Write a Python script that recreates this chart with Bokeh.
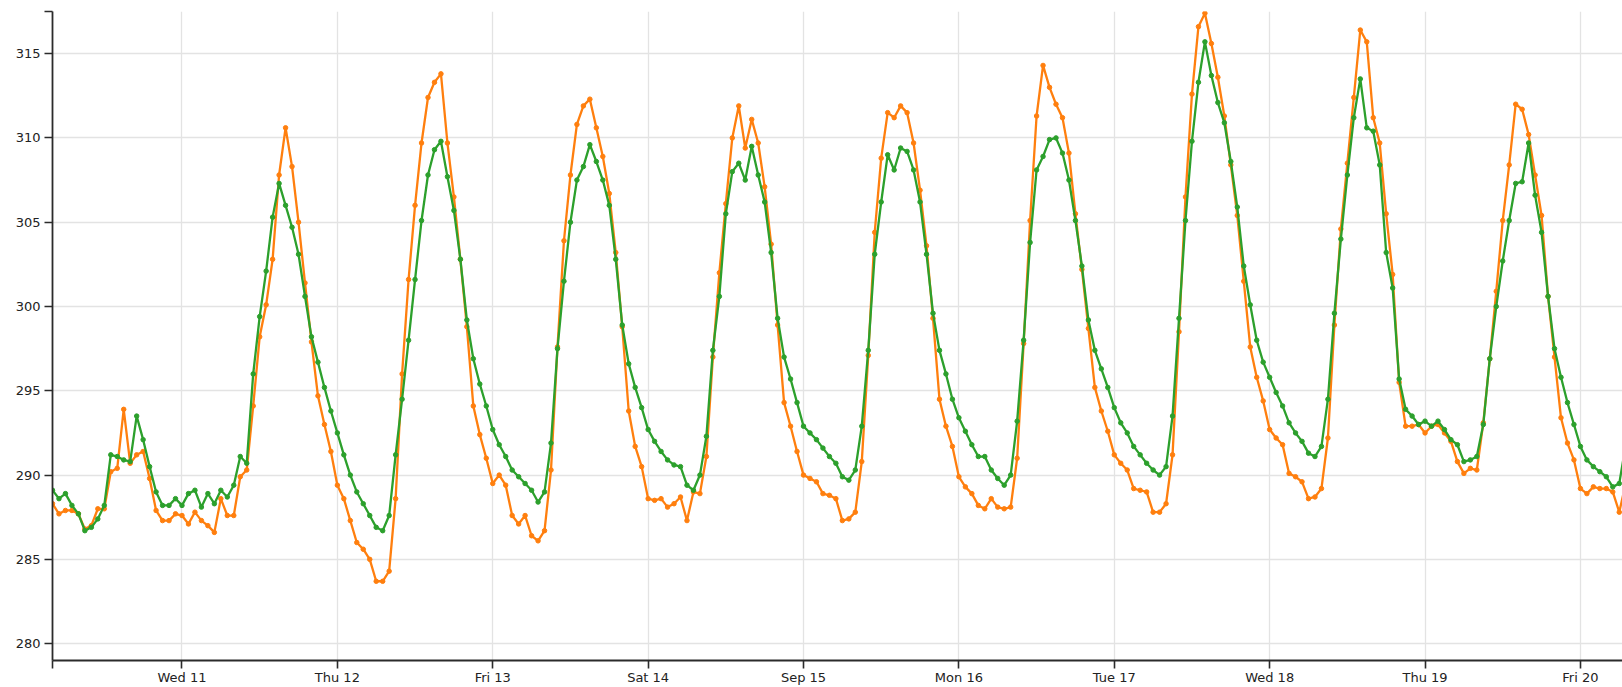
from datetime import datetime, timedelta

from bokeh.embed import file_html
from bokeh.models import ColumnDataSource, CustomJSTickFormatter, FixedTicker, Range1d
from bokeh.plotting import figure
from bokeh.resources import INLINE

# Hourly temperatures (K) starting 2019-09-10 04:00, one row per local day.
series_a = [  # orange
    288.3, 287.7, 287.9, 287.9, 287.7, 286.8, 287.0, 288.0, 288.0, 290.2,
    290.4, 293.9, 290.7, 291.2, 291.4, 289.8, 287.9, 287.3, 287.3, 287.7,
    # Sep 11
    287.6, 287.1, 287.8, 287.3, 287.0, 286.6, 288.6, 287.6, 287.6, 289.9,
    290.3, 294.1, 298.2, 300.1, 302.8, 307.8, 310.6, 308.3, 305.0, 301.4,
    297.9, 294.7, 293.0, 291.4,
    # Sep 12
    289.4, 288.6, 287.3, 286.0, 285.6, 285.0, 283.7, 283.7, 284.3, 288.6,
    296.0, 301.6, 306.0, 309.7, 312.4, 313.3, 313.8, 309.7, 306.5, 302.8,
    298.8, 294.1, 292.4, 291.0,
    # Sep 13
    289.5, 290.0, 289.4, 287.6, 287.1, 287.6, 286.4, 286.1, 286.7, 290.3,
    297.6, 303.9, 307.8, 310.8, 311.9, 312.3, 310.6, 308.9, 306.7, 303.2,
    298.8, 293.8, 291.7, 290.5,
    # Sep 14
    288.6, 288.5, 288.6, 288.1, 288.3, 288.7, 287.3, 289.0, 288.9, 291.1,
    297.0, 302.0, 306.1, 310.0, 311.9, 309.4, 311.1, 309.7, 307.1, 303.7,
    298.9, 294.3, 292.9, 291.4,
    # Sep 15
    290.0, 289.8, 289.6, 288.9, 288.8, 288.6, 287.3, 287.4, 287.8, 290.8,
    297.1, 304.4, 308.8, 311.5, 311.2, 311.9, 311.5, 309.7, 306.9, 303.6,
    299.3, 294.5, 292.9, 291.7,
    # Sep 16
    289.9, 289.3, 288.9, 288.2, 288.0, 288.6, 288.1, 288.0, 288.1, 291.0,
    297.8, 305.1, 311.3, 314.3, 313.0, 312.0, 311.2, 309.1, 305.5, 302.2,
    298.7, 295.2, 293.8, 292.6,
    # Sep 17
    291.2, 290.7, 290.3, 289.2, 289.1, 289.0, 287.8, 287.8, 288.3, 291.2,
    298.5, 306.5, 312.6, 316.6, 317.4, 315.6, 313.6, 311.3, 308.4, 305.4,
    301.5, 297.6, 295.8, 294.4,
    # Sep 18
    292.7, 292.2, 291.8, 290.1, 289.9, 289.6, 288.6, 288.7, 289.2, 292.2,
    298.9, 304.6, 308.5, 312.4, 316.4, 315.7, 311.2, 309.7, 305.5, 301.9,
    295.5, 292.9, 292.9, 293.0,
    # Sep 19
    292.5, 292.9, 293.0, 292.5, 292.0, 290.8, 290.1, 290.4, 290.3, 293.1,
    296.9, 300.9, 305.1, 308.4, 312.0, 311.7, 310.2, 307.8, 305.4, 300.6,
    297.0, 293.4, 291.9, 290.9,
    # Sep 20
    289.2, 288.9, 289.3, 289.2, 289.2, 289.0, 287.8, 289.5,
]

series_b = [  # green
    289.1, 288.6, 288.9, 288.2, 287.7, 286.7, 286.9, 287.4, 288.2, 291.2,
    291.1, 290.9, 290.8, 293.5, 292.1, 290.5, 289.0, 288.2, 288.2, 288.6,
    # Sep 11
    288.2, 288.9, 289.1, 288.1, 288.9, 288.3, 289.1, 288.7, 289.4, 291.1,
    290.7, 296.0, 299.4, 302.1, 305.3, 307.3, 306.0, 304.7, 303.1, 300.6,
    298.2, 296.7, 295.2, 293.8,
    # Sep 12
    292.5, 291.2, 290.0, 289.0, 288.3, 287.6, 286.9, 286.7, 287.6, 291.2,
    294.5, 298.0, 301.6, 305.1, 307.8, 309.3, 309.8, 307.7, 305.7, 302.8,
    299.2, 296.9, 295.4, 294.1,
    # Sep 13
    292.7, 291.8, 291.1, 290.3, 289.9, 289.5, 289.1, 288.4, 289.0, 291.9,
    297.5, 301.5, 305.0, 307.5, 308.3, 309.6, 308.6, 307.5, 306.0, 302.8,
    298.9, 296.6, 295.2, 294.0,
    # Sep 14
    292.7, 292.0, 291.4, 290.9, 290.6, 290.5, 289.4, 289.1, 290.0, 292.3,
    297.4, 300.6, 305.5, 308.0, 308.5, 307.5, 309.5, 307.8, 306.2, 303.2,
    299.3, 297.0, 295.7, 294.3,
    # Sep 15
    292.9, 292.5, 292.1, 291.6, 291.1, 290.7, 289.9, 289.7, 290.3, 292.9,
    297.4, 303.1, 306.2, 309.0, 308.1, 309.4, 309.2, 308.1, 306.2, 303.1,
    299.6, 297.4, 296.0, 294.5,
    # Sep 16
    293.4, 292.6, 291.8, 291.1, 291.1, 290.3, 289.8, 289.4, 290.0, 293.2,
    298.0, 303.8, 308.1, 308.9, 309.9, 310.0, 309.1, 307.5, 305.1, 302.4,
    299.2, 297.4, 296.3, 295.2,
    # Sep 17
    294.0, 293.1, 292.5, 291.7, 291.2, 290.7, 290.3, 290.0, 290.5, 293.5,
    299.3, 305.1, 309.8, 313.3, 315.7, 313.7, 312.1, 310.9, 308.6, 305.9,
    302.4, 300.1, 298.0, 296.7,
    # Sep 18
    295.8, 294.9, 294.1, 293.1, 292.5, 292.0, 291.3, 291.1, 291.7, 294.5,
    299.6, 304.0, 307.8, 311.2, 313.5, 310.6, 310.4, 308.4, 303.2, 301.1,
    295.7, 293.9, 293.5, 293.0,
    # Sep 19
    293.2, 292.9, 293.2, 292.7, 292.1, 291.8, 290.8, 290.9, 291.1, 293.0,
    296.9, 300.0, 302.7, 305.1, 307.3, 307.4, 309.7, 306.6, 304.4, 300.6,
    297.5, 295.8, 294.3, 293.0,
    # Sep 20
    291.7, 290.9, 290.5, 290.2, 289.9, 289.3, 289.5, 291.8,
]

day_ticks = [datetime(2019, 9, d) for d in range(11, 21)]
day_labels = ["Wed 11", "Thu 12", "Fri 13", "Sat 14", "Sep 15",
              "Mon 16", "Tue 17", "Wed 18", "Thu 19", "Fri 20"]
value_ticks = [280, 285, 290, 295, 300, 305, 310, 315]

t0 = datetime(2019, 9, 10, 4)
t1 = t0 + timedelta(hours=242.5)
v0, v1 = 279.0, 317.5

EPOCH = datetime(1970, 1, 1)


def to_ms(d):
    return (d - EPOCH).total_seconds() * 1000.0


times = [t0 + timedelta(hours=i) for i in range(len(series_a))]
src = ColumnDataSource(dict(t=times, a=series_a, b=series_b))

p = figure(
    width=1622, height=687,
    x_axis_type="datetime",
    x_range=Range1d(t0, t1), y_range=Range1d(v0, v1),
    output_backend="svg", toolbar_location=None,
    min_border_left=52, min_border_right=0,
    min_border_top=11, min_border_bottom=26,
)
p.outline_line_color = None
p.background_fill_color = "white"
p.border_fill_color = "white"

# axes: outer end ticks included, labelled only at the regular ticks
x_tick_ms = [to_ms(d) for d in day_ticks]
p.xaxis.ticker = FixedTicker(ticks=[to_ms(t0)] + x_tick_ms)
p.xaxis.formatter = CustomJSTickFormatter(
    args=dict(day_ms=x_tick_ms, day_names=day_labels),
    code="""
        for (let i = 0; i < day_ms.length; i++) {
            if (Math.abs(day_ms[i] - tick) < 1) return day_names[i];
        }
        return "";
    """,
)
p.yaxis.ticker = FixedTicker(ticks=value_ticks + [v1])
p.yaxis.formatter = CustomJSTickFormatter(
    args=dict(kelvin=value_ticks),
    code="""
        for (const v of kelvin) {
            if (Math.abs(v - tick) < 1e-6) return String(v);
        }
        return "";
    """,
)

p.xgrid.ticker = FixedTicker(ticks=x_tick_ms)
p.ygrid.ticker = FixedTicker(ticks=value_ticks)
p.grid.grid_line_color = "#e3e3e3"
p.grid.grid_line_width = 1.3

for ax in (p.xaxis, p.yaxis):
    ax.axis_line_color = "#2b2b2b"
    ax.axis_line_width = 1.8
    ax.major_tick_line_color = "#2b2b2b"
    ax.major_tick_line_width = 1.6
    ax.major_tick_out = 8
    ax.major_tick_in = 0
    ax.minor_tick_line_color = None
    ax.major_label_text_font = "DejaVu Sans"
    ax.major_label_text_font_size = "13px"
    ax.major_label_text_color = "#222222"
p.yaxis.major_label_standoff = 4
p.xaxis.major_label_standoff = 1

p.line("t", "a", source=src, line_color="#ff7f0e", line_width=2.3)
p.scatter("t", "a", source=src, size=4.5, fill_color="#ff7f0e", line_color="#ff7f0e")
p.line("t", "b", source=src, line_color="#2ca02c", line_width=2.3)
p.scatter("t", "b", source=src, size=4.5, fill_color="#2ca02c", line_color="#2ca02c")

open("out.html", "w").write(file_html(p, INLINE))
